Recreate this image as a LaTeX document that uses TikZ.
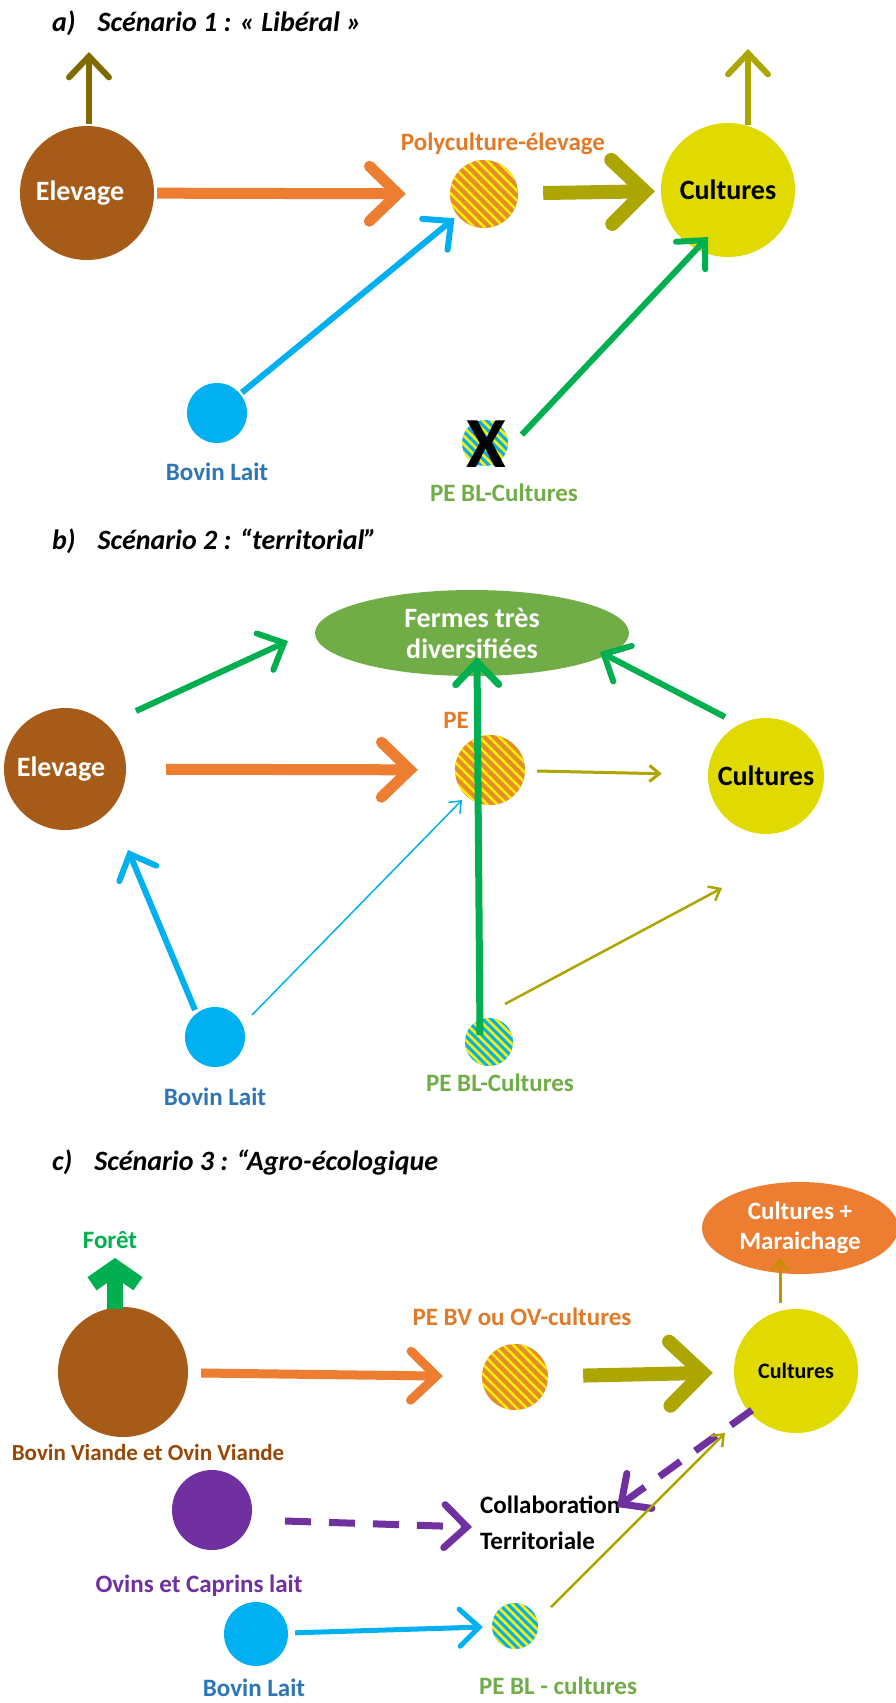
\documentclass[tikz,border=0pt]{standalone}
\usepackage{fontspec}
\setmainfont{Carlito}
\usetikzlibrary{arrows.meta,patterns.meta,shapes.geometric,calc}
\definecolor{elevBrown}{RGB}{166,92,24}
\definecolor{cultYellow}{RGB}{224,218,0}
\definecolor{arrOrange}{RGB}{237,125,49}
\definecolor{arrOlive}{RGB}{173,165,0}
\definecolor{upDark}{RGB}{127,106,0}
\definecolor{arrBlue}{RGB}{0,176,240}
\definecolor{arrGreen}{RGB}{0,176,80}
\definecolor{ellGreen}{RGB}{112,173,71}
\definecolor{lblBlue}{RGB}{46,117,182}
\definecolor{lblGreen}{RGB}{112,173,71}
\definecolor{lblOrange}{RGB}{226,122,40}
\definecolor{purp}{RGB}{112,48,160}
\definecolor{lblBrown}{RGB}{152,72,6}
\definecolor{goldArr}{RGB}{197,145,0}
\definecolor{ellOrange}{RGB}{237,125,49}
\definecolor{hOrange}{RGB}{230,140,40}
\definecolor{hYellow}{RGB}{255,240,0}
\tikzset{
  circ/.style={circle,inner sep=0pt,minimum size=#1},
  bigc/.style={circle,inner sep=0pt,minimum size=#1,text=white,font=\fontsize{28}{30}\bfseries},
  hatchO/.style={circle,inner sep=0pt,minimum size=#1,preaction={fill=hOrange},pattern={Lines[angle=-45,distance=7pt,line width=2.4pt]},pattern color=hYellow},
  hatchB/.style={circle,inner sep=0pt,minimum size=#1,preaction={fill=arrBlue},pattern={Lines[angle=-45,distance=6pt,line width=2.6pt]},pattern color=hYellow},
  lbl/.style={font=\fontsize{25}{27}\bfseries,inner sep=0pt},
  ttl/.style={font=\fontsize{28}{30}\bfseries\itshape,anchor=west,inner sep=0pt},
  arr/.style={line width=#1,-{Straight Barb[length=1.5*#1+12pt,width=3*#1+22pt,line cap=round]}},
  arrthin/.style={line width=#1,-{Straight Barb[length=10pt,width=16pt]}},
}
\begin{document}
\begin{tikzpicture}[x=1pt,y=-1pt]
\useasboundingbox (0,0) rectangle (896,1703);
\fill[white] (0,0) rectangle (896,1703);

% ---------- Scenario a ----------
\node[ttl] (ta) at (52,23) {a)\hspace{22pt}Scénario 1 : « Libéral »};
\node[bigc=134,fill=elevBrown] (elevA) at (87,193) {\hspace*{-14pt}Elevage};
\node[hatchO=68] (polyA) at (484,194) {};
\node[lbl,text=lblOrange] (polyAl) at (503,144) {Polyculture-élevage};
\node[bigc=134,fill=cultYellow,text=black] (cultA) at (728,190) {Cultures};
\node[circ=60,fill=arrBlue] (blA) at (217,413) {};
\node[lbl,text=lblBlue] (blAl) at (217,472) {Bovin Lait};
\node[hatchB=46] (peblA) at (485,443) {};
\node[font=\fontsize{72}{72}\bfseries,inner sep=0pt] (xA) at (486,444) {X};
\node[lbl,text=lblGreen] (peblAl) at (504,493) {PE BL-Cultures};
\coordinate (upA1) at (89,52);
\coordinate (upA2) at (748,49);

\draw[arr=6,draw=upDark] (elevA.north) ++(2,-2) coordinate (upA0) -- (upA1);
\draw[arr=6,draw=arrOlive] (cultA.north) ++(20,2) coordinate (upA3) -- (upA2);
\draw[arr=11,draw=arrOrange,shorten <=3pt,shorten >=43pt] (elevA) -- (polyA);
\draw[arr=14,draw=arrOlive,shorten <=24pt,shorten >=6pt] (polyA) -- (cultA);
\draw[arr=6,draw=arrBlue,shorten <=2pt,shorten >=3pt] (blA) -- (polyA);
\draw[arr=6,draw=arrGreen] (peblA.20) ++(14,0) coordinate (gA0) -- ($(cultA)+(-20,47)$) coordinate (gA1);

% ---------- Scenario b ----------
\node[ttl] (tb) at (52,541) {b)\hspace{22pt}Scénario 2 : “territorial”};
\node[ellipse,fill=ellGreen,minimum width=314,minimum height=86,inner sep=0pt,text=white,font=\fontsize{28}{31}\bfseries,align=center] (fermB) at (472,633) {Fermes très\\diversifiées};
\node[bigc=122,fill=elevBrown] (elevB) at (65,769) {\hspace*{-8pt}Elevage};
\node[hatchO=70] (peB) at (490,770) {};
\node[lbl,text=lblOrange] (peBl) at (456,720) {PE};
\node[bigc=116,fill=cultYellow,text=black] (cultB) at (766,776) {Cultures};
\node[circ=60,fill=arrBlue] (blB) at (215,1037) {};
\node[lbl,text=lblBlue] (blBl) at (215,1097) {Bovin Lait};
\node[hatchB=48] (peblB) at (489,1042) {};
\node[lbl,text=lblGreen] (peblBl) at (500,1083) {PE BL-Cultures};

\draw[arr=6,draw=arrGreen] ($(elevB)+(71,-58)$) coordinate (gB0) -- ($(fermB)+(-184,8)$) coordinate (gB1);
\draw[arr=11,draw=arrOrange,shorten <=40pt,shorten >=37pt] (elevB) -- (peB);
\draw[arrthin=3,draw=arrOlive,shorten <=12pt,shorten >=46pt] (peB) -- (cultB);
\draw[arr=6,draw=arrGreen] ($(cultB)+(-41,-59)$) coordinate (gB2) -- ($(fermB)+(128,19)$) coordinate (gB3);
\draw[arr=7,draw=arrGreen] ($(peblB)+(-9,-7)$) coordinate (gB4) -- ($(fermB)+(5,24)$) coordinate (gB5);
\draw[arr=6,draw=arrBlue] ($(blB)+(-20,-27)$) coordinate (bB0) -- ($(elevB)+(63,81)$) coordinate (bB1);
\draw[arrthin=1.5,draw=arrBlue] ($(blB)+(37,-22)$) coordinate (bB2) -- ($(peB)+(-28,30)$) coordinate (bB3);
\draw[arrthin=2.5,draw=arrOlive] ($(peblB)+(16,-38)$) coordinate (oB0) -- ($(cultB)+(-44,112)$) coordinate (oB1);

% ---------- Scenario c ----------
\node[ttl] (tc) at (52,1162) {c)\hspace{22pt}Scénario 3 : “Agro-écologique};
\node[lbl,text=arrGreen] (foretl) at (110,1240) {Forêt};
\node[bigc=130,fill=elevBrown] (elevC) at (123,1372) {};
\node[lbl,text=lblBrown,font=\fontsize{23}{25}\bfseries] (elevCl) at (148,1452) {Bovin Viande et Ovin Viande};
\node[hatchO=66] (peC) at (515,1377) {};
\node[lbl,text=lblOrange] (peCl) at (522,1317) {PE BV ou OV-cultures};
\node[bigc=124,fill=cultYellow,text=black,font=\fontsize{22}{24}\bfseries] (cultC) at (796,1371) {Cultures};
\node[ellipse,fill=ellOrange,minimum width=196,minimum height=92,inner sep=0pt,text=white,font=\fontsize{25}{30}\bfseries,align=center] (cmC) at (800,1228) {Cultures +\\Maraichage};
\node[circ=80,fill=purp] (ovC) at (212,1510) {};
\node[lbl,text=purp] (ovCl) at (199,1586) {Ovins et Caprins lait};
\node[lbl,text=black,align=left,anchor=north west,font=\fontsize{25}{36}\bfseries] (colC) at (480,1496) {Collaboration\\Territoriale};
\node[circ=64,fill=arrBlue] (blC) at (256,1634) {};
\node[lbl,text=lblBlue] (blCl) at (254,1688) {Bovin Lait};
\node[hatchB=46] (peblC) at (515,1626) {};
\node[lbl,text=lblGreen] (peblCl) at (558,1686) {PE BL - cultures};

\draw[line width=16,draw=arrGreen,-{Straight Barb[length=16pt,width=46pt]}] ($(elevC.north)+(-8,2)$) coordinate (fC0) -- ($(foretl)+(5,18)$) coordinate (fC1);
\draw[arr=9,draw=arrOrange,shorten <=13pt,shorten >=39pt] (elevC) -- (peC);
\draw[arr=14,draw=arrOlive,shorten <=35pt,shorten >=21pt] (peC) -- (cultC);
\draw[arrthin=3,draw=goldArr] ($(cultC)+(-16,-68)$) coordinate (gC0) -- ($(cmC)+(-20,30)$) coordinate (gC1);
\draw[arr=7,draw=purp,dash pattern=on 26pt off 18pt] ($(ovC)+(73,11)$) coordinate (pC0) -- ($(colC.north west)+(-8,31)$) coordinate (pC1);
\draw[arr=7,draw=purp,dash pattern=on 26pt off 18pt] ($(cultC)+(-44,39)$) coordinate (pC2) -- ($(colC.north west)+(137,11)$) coordinate (pC3);
\draw[arr=5,draw=arrBlue,shorten <=7pt,shorten >=9pt] (blC) -- (peblC);
\draw[arrthin=2.5,draw=arrOlive] ($(peblC)+(36,-19)$) coordinate (oC0) -- ($(cultC)+(-71,62)$) coordinate (oC1);
\end{tikzpicture}
\end{document}
